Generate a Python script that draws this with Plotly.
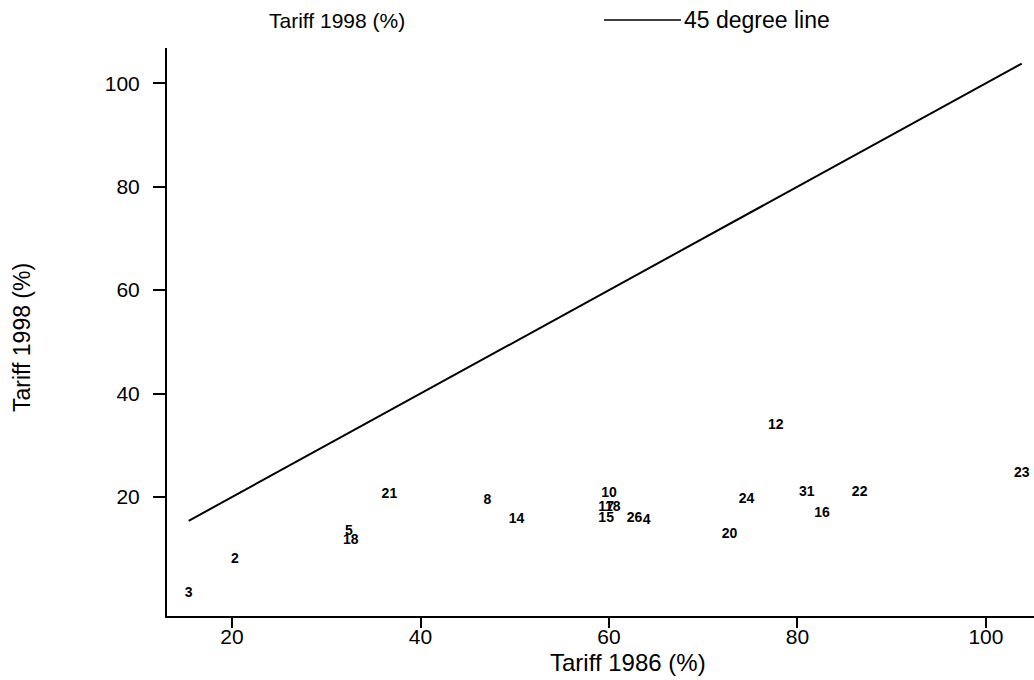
import plotly.graph_objects as go

# Country id labels and tariffs
labels = ["3", "2", "5", "18", "21", "8", "14", "10", "17", "18",
          "15", "26", "4", "20", "24", "12", "31", "16", "22", "23"]
tariff_1986 = [15.4, 20.3, 32.4, 32.6, 36.7, 47.1, 50.2, 60.0, 59.7, 60.4,
               59.7, 62.7, 64.0, 72.8, 74.6, 77.7, 81.0, 82.6, 86.6, 103.8]
tariff_1998 = [1.4, 8.0, 13.3, 11.6, 20.4, 19.4, 15.6, 20.7, 18.0, 17.9,
               15.9, 15.9, 15.4, 12.7, 19.6, 33.9, 20.8, 16.9, 20.8, 24.6]

x_ticks = [20, 40, 60, 80, 100]
y_ticks = [20, 40, 60, 80, 100]

FONT = "Liberation Sans, Arial, sans-serif"

# page pixel geometry of the plot area
PL, PR, PT, PB = 167, 1034, 48, 616
W, H = 1034, 680


def px(xp):
    return (xp - PL) / (PR - PL)


def py(yp):
    return (PB - yp) / (PB - PT)


fig = go.Figure()

# 45 degree line across the range of the data
lo, hi = min(tariff_1986), max(tariff_1986)
fig.add_trace(go.Scatter(
    x=[lo, hi], y=[lo, hi], mode="lines",
    line=dict(color="black", width=2), name="45 degree line",
    showlegend=False, hoverinfo="skip"))

fig.add_trace(go.Scatter(
    x=tariff_1986, y=tariff_1998, mode="text", text=labels,
    textposition="middle center", cliponaxis=False,
    textfont=dict(family=FONT, size=14, color="black", weight="bold"),
    name="Tariff 1998 (%)", showlegend=False))

fig.update_layout(
    width=W, height=H,
    margin=dict(l=PL, r=W - PR, t=PT, b=H - PB),
    paper_bgcolor="white", plot_bgcolor="white",
    font=dict(family=FONT, color="black"),
    xaxis=dict(range=[13.1, 105.1], tickvals=x_ticks, showgrid=False,
               zeroline=False, showline=True, linecolor="black", linewidth=2,
               ticks="outside", ticklen=10, tickwidth=1.5, tickcolor="black",
               ticklabelstandoff=-9,
               tickfont=dict(size=21, family=FONT)),
    yaxis=dict(range=[-3.0, 106.8], tickvals=y_ticks, showgrid=False,
               zeroline=False, showline=True, linecolor="black", linewidth=2,
               ticks="outside", ticklen=12, tickwidth=1.5, tickcolor="black",
               ticklabelstandoff=9,
               tickfont=dict(size=21, family=FONT)),
    annotations=[
        dict(text="Tariff 1986 (%)", xref="paper", yref="paper",
             x=px(628), y=py(662),
             xanchor="center", yanchor="middle", showarrow=False,
             font=dict(size=24, family=FONT)),
        dict(text="Tariff 1998 (%)", xref="paper", yref="paper",
             x=px(22), y=py(338),
             xanchor="center", yanchor="middle", showarrow=False,
             textangle=-90, font=dict(size=23, family=FONT)),
        dict(text="Tariff 1998 (%)", xref="paper", yref="paper",
             x=px(337), y=py(20),
             xanchor="center", yanchor="middle", showarrow=False,
             font=dict(size=21, family=FONT)),
        dict(text="45 degree line", xref="paper", yref="paper",
             x=px(682), y=py(20),
             xanchor="left", yanchor="middle", showarrow=False,
             font=dict(size=23, family=FONT)),
    ],
    shapes=[
        dict(type="line", xref="paper", yref="paper",
             x0=px(604), x1=px(681), y0=py(20), y1=py(20),
             line=dict(color="black", width=1.5)),
    ],
)

fig.write_html(
    "out.html",
    config={"displayModeBar": False},
    post_script=("document.body.style.margin='0';"
                 "document.body.style.overflow='hidden';"
                 "document.documentElement.style.overflow='hidden';"))
